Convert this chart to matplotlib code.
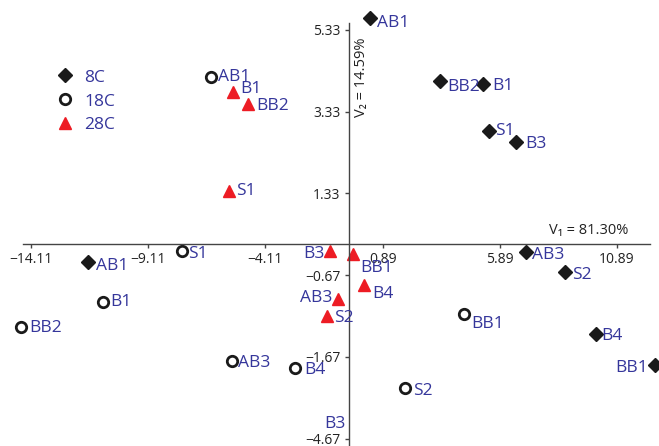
import matplotlib.pyplot as plt

plt.rcParams['font.family'] = ['Open Sans', 'DejaVu Sans']

# scores on the first two canonical axes, grouped by temperature
names_8c = ["AB1", "BB2", "B1", "S1", "B3", "AB1", "AB3", "S2", "B4", "BB1"]
v1_8c = [0.35, 3.34, 5.19, 5.44, 6.58, -11.69, 7.01, 8.67, 9.98, 12.51]
v2_8c = [5.62, 4.09, 4.01, 2.86, 2.58, -0.36, -0.11, -0.60, -2.10, -2.88]

names_18c = ["AB1", "S1", "B1", "BB2", "AB3", "B4", "BB1", "S2"]
v1_18c = [-6.43, -7.68, -11.05, -14.54, -5.55, -2.85, 4.38, 1.85]
v2_18c = [4.17, -0.09, -1.33, -1.93, -2.76, -2.94, -1.63, -3.43]

names_28c = ["B1", "BB2", "S1", "B3", "BB1", "B4", "AB3", "S2"]
v1_28c = [-5.48, -4.84, -5.68, -1.35, -0.39, 0.10, -1.00, -1.49]
v2_28c = [3.81, 3.51, 1.39, -0.09, -0.16, -0.92, -1.25, -1.67]

xticks = [-14.11, -9.11, -4.11, 0.89, 5.89, 10.89]
xtick_labels = ["\u221214.11", "\u22129.11", "\u22124.11", "0.89", "5.89", "10.89"]
yticks = [5.33, 3.33, 1.33, -0.67, -2.67, -4.67]
ytick_labels = ["5.33", "3.33", "1.33", "\u22120.67", "\u22121.67", "\u22124.67"]

BLUE = '#35369b'
RED = '#ed1c24'
INK = '#1a1a1a'

# label offsets in pixels (dx, dy, horizontal alignment)
off_8c = [(7, -5, 'left'), (7, -6, 'left'), (9, -2, 'left'), (6, 0, 'left'),
          (9, -2, 'left'), (8, -4, 'left'), (6, -3, 'left'), (7, -3, 'left'),
          (6, -2, 'left'), (-7, -3, 'right')]
off_18c = [(7, 0, 'left'), (6, -3, 'left'), (8, 0, 'left'), (8, -1, 'left'),
           (6, -2, 'left'), (9, -2, 'left'), (7, -10, 'left'), (8, -3, 'left')]
off_28c = [(7, 3, 'left'), (8, -2, 'left'), (7, 0, 'left'), (-5, -3, 'right'),
           (8, -14, 'left'), (8, -9, 'left'), (-6, 1, 'right'), (7, -2, 'left')]

fig = plt.figure(figsize=(6.59, 4.46), dpi=100)
ax = fig.add_axes([0, 0, 1, 1])
ax.set_xlim(-15.432, 12.68)
ax.set_ylim(-4.85, 6.06)

ax.plot(v1_8c, v2_8c, 'D', color=INK, ms=7.5, ls='none', label='8C', clip_on=False)
ax.plot(v1_18c, v2_18c, 'o', mfc='white', mec=INK, mew=2, ms=7.5, ls='none', label='18C')
ax.plot(v1_28c, v2_28c, '^', color=RED, ms=9, ls='none', label='28C')

for names, xs, ys, offs in [(names_8c, v1_8c, v2_8c, off_8c),
                            (names_18c, v1_18c, v2_18c, off_18c),
                            (names_28c, v1_28c, v2_28c, off_28c)]:
    for n, x, y, (dx, dy, ha) in zip(names, xs, ys, offs):
        ax.annotate(n, (x, y), xytext=(dx, dy), textcoords='offset pixels',
                    ha=ha, va='center', color=BLUE, fontsize=12.5)

# 18C B3 lies under the axis; only its label shows
ax.annotate("B3", (-1.13, -4.31), ha='center', va='center', color=BLUE, fontsize=12.5)

# axes crossing inside the plot
for s in ['top', 'right']:
    ax.spines[s].set_visible(False)
ax.spines['left'].set_position(('data', -0.56))
ax.spines['bottom'].set_position(('data', 0.095))
ax.spines['left'].set_bounds(-4.85, 5.49)
ax.spines['bottom'].set_bounds(-14.45, 12.30)
for s in ['left', 'bottom']:
    ax.spines[s].set_color('#444444')
    ax.spines[s].set_linewidth(1.0)

ax.set_xticks(xticks)
ax.set_xticklabels(xtick_labels)
ax.set_yticks(yticks)
ax.set_yticklabels(ytick_labels)
ax.tick_params(axis='both', direction='out', length=3, width=1.0, colors='#444444',
               labelcolor='#222222', labelsize=10, pad=3)
for lbl in ax.get_yticklabels():
    lbl.set_va('center_baseline')

ax.text(11.36, 0.43, "V\u2081 = 81.30%", ha='right', va='center', fontsize=10.5, color='#222222')
ax.text(0.0, 4.18, "V\u2082 = 14.59%", ha='center', va='center', rotation=90,
        fontsize=10.5, color='#222222')

leg = ax.legend(loc='upper left', bbox_to_anchor=(0.075, 0.86), frameon=False,
                fontsize=12.5, labelspacing=0.45, handletextpad=0.6, handlelength=1.0,
                borderaxespad=0)
for t in leg.get_texts():
    t.set_color(BLUE)

fig.savefig('out.png', dpi=100)
